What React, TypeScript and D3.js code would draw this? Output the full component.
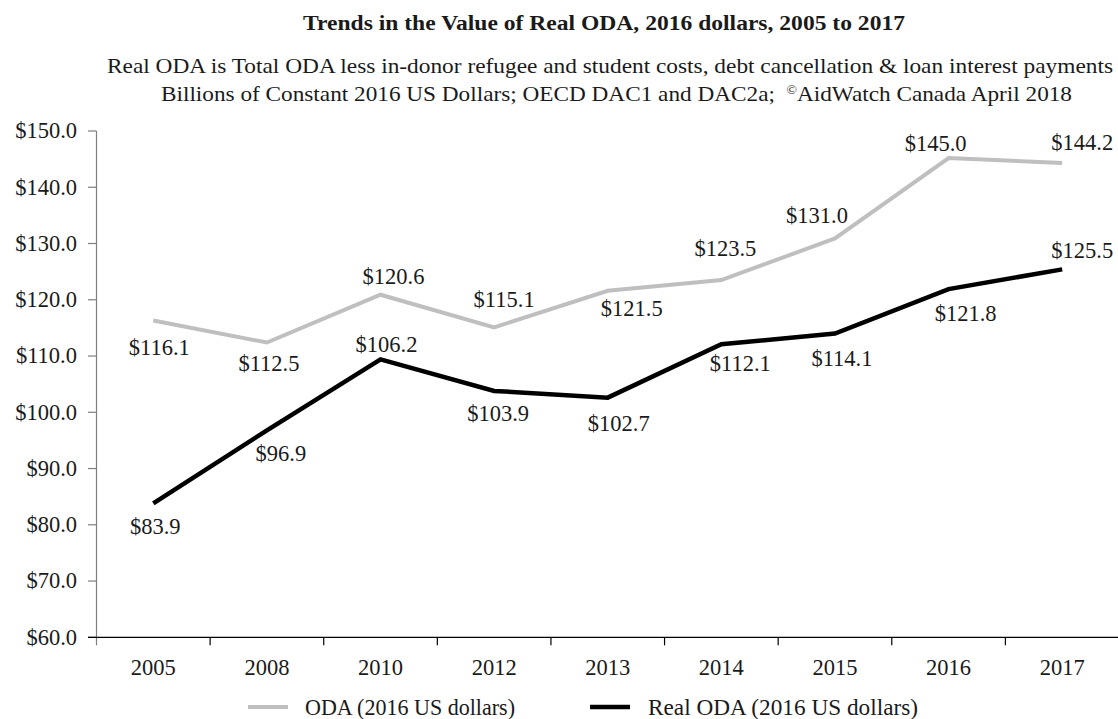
import React from 'react';
import * as d3 from 'd3';

const years = ['2005', '2008', '2010', '2012', '2013', '2014', '2015', '2016', '2017'];
// values as plotted by the lines
const odaValues = [116.3, 112.4, 120.9, 115.1, 121.6, 123.5, 130.9, 145.2, 144.3];
const realOdaValues = [83.8, 96.8, 109.4, 103.8, 102.6, 112.1, 114.0, 121.9, 125.4];
// data label texts as printed
const odaLabels = ['$116.1', '$112.5', '$120.6', '$115.1', '$121.5', '$123.5', '$131.0', '$145.0', '$144.2'];
const realOdaLabels = ['$83.9', '$96.9', '$106.2', '$103.9', '$102.7', '$112.1', '$114.1', '$121.8', '$125.5'];
const yTicks = [60, 70, 80, 90, 100, 110, 120, 130, 140, 150];
const seriesNames = ['ODA (2016 US dollars)', 'Real ODA (2016 US dollars)'];

// label placement (layout only)
const odaLabelOffsets: [number, number][] = [[6, 27], [2, 21], [13, -18], [10, -28], [24, 18], [4, -32], [-18, -23], [-13, -14], [20, -20]];
const realLabelOffsets: [number, number][] = [[2, 23], [14, 23], [6, -15], [4, 23], [11, 26], [19, 19], [7, 25], [17, 24], [20, -19]];

const W = 1118;
const H = 719;
const FONT = '"Liberation Serif", "Times New Roman", serif';
const FS = 22.5;

export default function App() {
  const x = d3.scaleBand<string>().domain(years).range([96.5, 1119]).padding(0);
  const y = d3.scaleLinear().domain([60, 150]).range([637.3, 131]);
  const cx = (yr: string) => (x(yr) as number) + x.bandwidth() / 2;
  const line = d3
    .line<number>()
    .x((_, i) => cx(years[i]))
    .y((d) => y(d));

  const baseOff = FS * 0.33;

  return (
    <svg
      width={W}
      height={H}
      style={{ position: 'absolute', left: 0, top: 0, background: '#fff' }}
      fontFamily={FONT}
    >
      <rect x={0} y={0} width={W} height={H} fill="#fff" />
      {/* titles */}
      <text
        x={303}
        y={30}
        fontSize={20}
        fontWeight="bold"
        fill="#1a1a1a"
        textLength={602}
        lengthAdjust="spacingAndGlyphs"
      >
        Trends in the Value of Real ODA, 2016 dollars, 2005 to 2017
      </text>
      <text
        x={107}
        y={65 + 7.5}
        fontSize={22}
        fill="#1a1a1a"
        textLength={1006}
        lengthAdjust="spacingAndGlyphs"
      >
        Real ODA is Total ODA less in-donor refugee and student costs, debt cancellation &amp; loan interest payments
      </text>
      <text x={161} y={93 + 7.5} fontSize={22} fill="#1a1a1a" textLength={911} lengthAdjust="spacingAndGlyphs">
        Billions of Constant 2016 US Dollars; OECD DAC1 and DAC2a;{'\u00a0 '}
        <tspan fontSize={13} dy={-7}>©</tspan>
        <tspan dy={7}>AidWatch Canada April 2018</tspan>
      </text>

      {/* y axis */}
      <line x1={96.5} x2={96.5} y1={y(150)} y2={y(60) + 8} stroke="#7f7f7f" strokeWidth={1.2} />
      {yTicks.map((t) => (
        <g key={t}>
          <line x1={88} x2={96.5} y1={y(t)} y2={y(t)} stroke="#7f7f7f" strokeWidth={1.2} />
          <text x={77} y={y(t) + baseOff} textAnchor="end" fontSize={FS} fill="#1a1a1a">
            {'$' + t.toFixed(1)}
          </text>
        </g>
      ))}

      {/* x axis */}
      <line x1={88} x2={1118} y1={y(60)} y2={y(60)} stroke="#000" strokeWidth={1.2} />
      {years.map((yr) => (
        <g key={yr}>
          <line
            x1={(x(yr) as number) + x.bandwidth()}
            x2={(x(yr) as number) + x.bandwidth()}
            y1={y(60)}
            y2={y(60) + 8}
            stroke="#000"
            strokeWidth={1.2}
          />
          <text x={cx(yr)} y={675} textAnchor="middle" fontSize={FS} fill="#1a1a1a">
            {yr}
          </text>
        </g>
      ))}

      {/* lines */}
      <path d={line(odaValues) || ''} fill="none" stroke="#bfbfbf" strokeWidth={4} strokeLinejoin="miter" />
      <path d={line(realOdaValues) || ''} fill="none" stroke="#000" strokeWidth={4.5} strokeLinejoin="miter" />

      {/* data labels */}
      {odaValues.map((v, i) => (
        <text
          key={'o' + i}
          x={cx(years[i]) + odaLabelOffsets[i][0]}
          y={y(v) + odaLabelOffsets[i][1] + baseOff}
          textAnchor="middle"
          fontSize={FS}
          fill="#1a1a1a"
        >
          {odaLabels[i]}
        </text>
      ))}
      {realOdaValues.map((v, i) => (
        <text
          key={'r' + i}
          x={cx(years[i]) + realLabelOffsets[i][0]}
          y={y(v) + realLabelOffsets[i][1] + baseOff}
          textAnchor="middle"
          fontSize={FS}
          fill="#1a1a1a"
        >
          {realOdaLabels[i]}
        </text>
      ))}

      {/* legend */}
      <line x1={248} x2={288} y1={707} y2={707} stroke="#bfbfbf" strokeWidth={4} />
      <text x={305} y={714.5} fontSize={FS} fill="#1a1a1a" textLength={210} lengthAdjust="spacingAndGlyphs">
        {seriesNames[0]}
      </text>
      <line x1={590} x2={630} y1={707} y2={707} stroke="#000" strokeWidth={4.5} />
      <text x={648} y={714.5} fontSize={FS} fill="#1a1a1a" textLength={270} lengthAdjust="spacingAndGlyphs">
        {seriesNames[1]}
      </text>
    </svg>
  );
}
